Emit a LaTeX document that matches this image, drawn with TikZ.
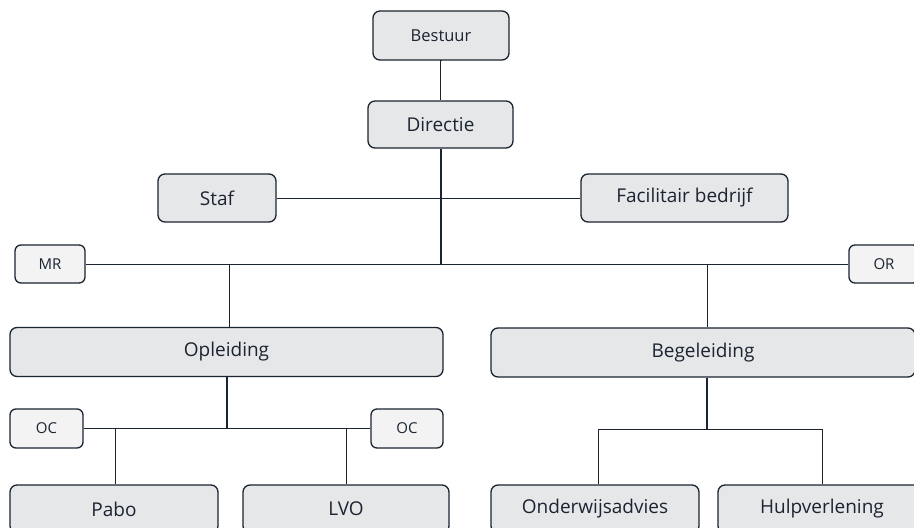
\documentclass[tikz,border=0pt]{standalone}
\usepackage{fontspec}
\setmainfont{Open Sans}
\definecolor{boxfill}{HTML}{E6E7E9}
\definecolor{smallfill}{HTML}{F3F3F4}
\definecolor{ink}{HTML}{1B2430}
\begin{document}
\begin{tikzpicture}[x=1pt,y=-1pt,
  unit/.style={draw=ink, line width=1.3pt, fill=boxfill, rounded corners=7pt,
    inner sep=0pt, text=ink, font=\fontsize{19}{23}\selectfont},
  small/.style={draw=ink, line width=1.3pt, fill=smallfill, rounded corners=6pt,
    inner sep=0pt, text=ink, font=\fontsize{15}{18}\selectfont},
  conn/.style={draw=ink, line width=1pt}]
\clip (0,0) rectangle (914,528);
\fill[white] (0,0) rectangle (914,528);
% nodes
\node[unit, minimum width=136pt, minimum height=49pt, font=\fontsize{16.5}{20}\selectfont] (best) at (441,35.5) {Bestuur};
\node[unit, minimum width=145pt, minimum height=47pt] (dir) at (440.5,124.5) {Directie};
\node[unit, minimum width=118pt, minimum height=48pt] (staf) at (217,198) {Staf};
\node[unit, minimum width=207pt, minimum height=48pt] (fac) at (684.5,198) {Facilitair bedrijf};
\node[small, minimum width=70pt, minimum height=38pt] (mr) at (50,264) {MR};
\node[small, minimum width=70pt, minimum height=38pt] (or) at (884,264) {OR};
\node[unit, minimum width=433pt, minimum height=49pt] (opl) at (226.5,352) {Opleiding};
\node[unit, minimum width=424pt, minimum height=49pt] (beg) at (703,352.5) {Begeleiding};
\node[small, minimum width=73pt, minimum height=39pt] (oc1) at (46.5,428.5) {OC};
\node[small, minimum width=72pt, minimum height=39pt] (oc2) at (407,428.5) {OC};
\node[unit, minimum width=208pt, minimum height=48pt] (pabo) at (114,509) {Pabo};
\node[unit, minimum width=206pt, minimum height=48pt] (lvo) at (346,509) {LVO};
\node[unit, minimum width=208pt, minimum height=48pt] (ow) at (595,509) {Onderwijsadvies};
\node[unit, minimum width=208pt, minimum height=48pt] (hulp) at (822,509) {Hulpverlening};
% junction coordinates
\coordinate (jtop) at (441,264);
\coordinate (jopl) at (229,264);
\coordinate (jbeg) at (707,264);
\coordinate (jo) at (227,428);
\coordinate (jpabo) at (115,428);
\coordinate (jlvo) at (346,428);
\coordinate (jb) at (707,429);
\coordinate (jow) at (598,429);
\coordinate (jhulp) at (822,429);
% connectors
\draw[conn] (best.south) -- (dir.south |- best.south) -- (dir.north);
\draw[conn] (staf.east) -- (fac.west);
\draw[conn, line width=1.3pt] (dir.south -| jtop) -- (jtop);
\draw[conn] (mr.east) -- (or.west);
\draw[conn] (jopl) -- (jopl |- opl.north);
\draw[conn] (jbeg) -- (jbeg |- beg.north);
\draw[conn, line width=1.3pt] (jo |- opl.south) -- (jo);
\draw[conn] (oc1.east) -- (oc2.west);
\draw[conn] (jpabo) -- (jpabo |- pabo.north);
\draw[conn] (jlvo) -- (jlvo |- lvo.north);
\draw[conn, line width=1.3pt] (jb |- beg.south) -- (jb);
\draw[conn] (jow |- ow.north) -- (jow) -- (jhulp) -- (jhulp |- hulp.north);
\end{tikzpicture}
\end{document}
